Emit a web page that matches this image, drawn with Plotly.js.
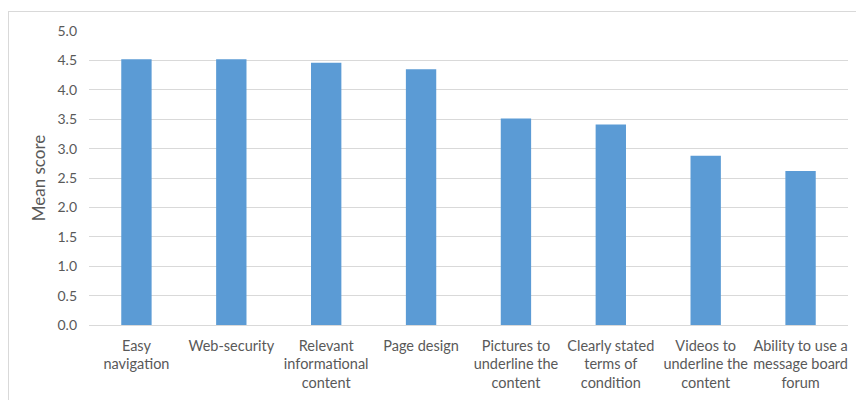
<!DOCTYPE html>
<html>
<head>
<meta charset="utf-8">
<script src="https://cdn.plot.ly/plotly-3.0.1.min.js"></script>
<style>
html,body{margin:0;padding:0;background:#fff;overflow:hidden;width:856px;height:400px;}
#frame{position:absolute;left:8px;top:11px;width:900px;height:500px;border:1px solid #d9d9d9;box-sizing:border-box;}
#chart{position:absolute;left:0;top:0;width:856px;height:400px;}
</style>
</head>
<body>
<div id="frame"></div>
<div id="chart"></div>
<script>
var categories = [
  "Easy<br>navigation",
  "Web-security",
  "Relevant<br>informational<br>content",
  "Page design",
  "Pictures to<br>underline the<br>content",
  "Clearly stated<br>terms of<br>condition",
  "Videos to<br>underline the<br>content",
  "Ability to use a<br>message board<br>forum"
];
var meanScores = [4.52, 4.52, 4.46, 4.35, 3.51, 3.41, 2.88, 2.62];
var yTicks = [0, 0.5, 1, 1.5, 2, 2.5, 3, 3.5, 4, 4.5, 5];

var font = "Lato, 'Open Sans', sans-serif";
var data = [{
  type: "bar",
  x: categories,
  y: meanScores,
  marker: {color: "#5b9bd5"},
  hoverinfo: "skip"
}];
var layout = {
  width: 856, height: 400,
  margin: {l: 89, r: 8, t: 31, b: 75},
  paper_bgcolor: "rgba(0,0,0,0)",
  plot_bgcolor: "rgba(0,0,0,0)",
  bargap: 0.68,
  showlegend: false,
  font: {family: font, size: 14, color: "#595959"},
  xaxis: {
    type: "category",
    tickfont: {family: font, size: 14.5, color: "#595959"},
    showgrid: false, showline: false, ticks: "",
    ticklabelstandoff: 10,
    tickangle: 0, automargin: false
  },
  yaxis: {
    range: [0, 5],
    tickvals: yTicks,
    tickformat: ".1f",
    showgrid: true, gridcolor: "#d9d9d9", gridwidth: 1,
    zeroline: true, zerolinecolor: "#d9d9d9", zerolinewidth: 1,
    showline: false, ticks: "", ticklen: 0,
    ticklabelstandoff: 11,
    tickfont: {family: font, size: 14, color: "#595959"},
    title: {text: "Mean score", font: {family: font, size: 17, color: "#595959"}, standoff: 7},
    automargin: false
  }
};
Plotly.newPlot("chart", data, layout, {staticPlot: true, displayModeBar: false});
</script>
</body>
</html>
